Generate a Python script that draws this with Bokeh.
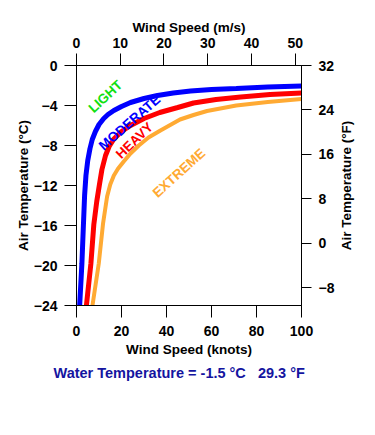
from bokeh.plotting import figure
from bokeh.models import Range1d, LinearAxis, FixedTicker, Title, ColumnDataSource, Label
from bokeh.core.properties import value
from bokeh.embed import file_html
from bokeh.resources import INLINE

# ---- data ----
# boundary LIGHT / MODERATE (blue)
light_kn = [1.4, 2.4, 3.1, 3.6, 4.2, 5.0, 6.0, 7.0, 8.4, 10, 12.1, 14, 16.6, 20, 24, 30, 36, 43, 50.7, 60, 71, 85, 100]
light_c = [-24, -19.8, -15.8, -13.0, -11.0, -9.5, -8.3, -7.4, -6.6, -5.9, -5.3, -4.9, -4.5, -4.1, -3.7, -3.3, -3.0, -2.75, -2.55, -2.4, -2.3, -2.15, -2.05]
# boundary MODERATE / HEAVY (red)
heavy_kn = [4.4, 6.4, 7.7, 9.0, 10.2, 11.3, 12.9, 14.5, 16.6, 20, 24, 30, 37, 45, 52, 62, 73, 86, 100]
heavy_c = [-24, -19.8, -15.9, -13.6, -11.9, -10.4, -9.0, -8.1, -7.35, -6.6, -6.0, -5.3, -4.7, -4.2, -3.75, -3.4, -3.15, -2.9, -2.75]
# boundary HEAVY / EXTREME (orange)
extreme_kn = [7.1, 9.9, 11.8, 13.6, 15.0, 16.6, 18.5, 21, 24, 27.7, 32, 37.3, 46, 52, 58, 71, 85, 100]
extreme_c = [-24, -19.8, -15.8, -13.1, -11.9, -11.0, -10.3, -9.6, -8.8, -8.0, -7.2, -6.5, -5.4, -4.95, -4.55, -4.0, -3.65, -3.35]

category_names = ["LIGHT", "MODERATE", "HEAVY", "EXTREME"]
knots_ticks = [0, 20, 40, 60, 80, 100]
ms_ticks = [0, 10, 20, 30, 40, 50]
degc_ticks = [-24, -20, -16, -12, -8, -4, 0]
degf_ticks = [-8, 0, 8, 16, 24, 32]
footer = "Water Temperature = -1.5 \u00b0C \u00a0\u00a029.3 \u00b0F"
right_title = "Air Temperature (\u00b0F)"

# ---- label placement (annotation positions) ----
lab_x = [12.9, 23.6, 25.8, 45.5]
lab_y = [-3.1, -5.7, -7.5, -10.75]
lab_ang = [43, 41, 44, 42]
lab_col = ["#10E010", "#0000FF", "#FF0000", "#FFAA33"]

FONT = "Liberation Sans"
KN_MAX = 100
MS_PER_KN = 0.5144

p = figure(width=367, height=415,
           x_range=Range1d(0, KN_MAX), y_range=Range1d(-24, 0),
           x_axis_location=None, y_axis_location=None,
           output_backend="svg", toolbar_location=None,
           min_border_left=76, min_border_top=65,
           min_border_right=66, min_border_bottom=110)
p.extra_x_ranges = {"ms": Range1d(0, KN_MAX * MS_PER_KN)}
p.extra_y_ranges = {"F": Range1d(-24 * 9 / 5 + 32, 32)}
p.grid.grid_line_color = None
p.outline_line_color = "black"
p.outline_line_width = 1
p.background_fill_color = "white"
p.border_fill_color = "white"


def style(ax, label, ticks, tick_len, standoff, lab_standoff):
    ax.ticker = FixedTicker(ticks=ticks)
    ax.axis_label = label
    ax.axis_label_text_font = FONT
    ax.axis_label_text_font_style = "bold"
    ax.axis_label_text_font_size = "13.5px"
    ax.axis_label_text_color = "black"
    ax.axis_label_standoff = lab_standoff
    ax.major_label_text_font = FONT
    ax.major_label_text_font_style = "bold"
    ax.major_label_text_font_size = "14px"
    ax.major_label_text_color = "black"
    ax.major_label_standoff = standoff
    ax.major_tick_out = tick_len
    ax.major_tick_in = 0
    ax.minor_tick_out = 0
    ax.minor_tick_in = 0
    ax.axis_line_color = "black"
    ax.major_tick_line_color = "black"


bottom = LinearAxis()
style(bottom, "Wind Speed (knots)", knots_ticks, 12, 8, 3)
p.add_layout(bottom, "below")

top = LinearAxis(x_range_name="ms")
style(top, "Wind Speed (m/s)", ms_ticks, 12, 6, 0)
p.add_layout(top, "above")

left = LinearAxis()
style(left, "Air Temperature (\u00b0C)", degc_ticks, 12, 7, 0)
p.add_layout(left, "left")

right = LinearAxis(y_range_name="F")
style(right, None, degf_ticks, 10, 7, 8)
p.add_layout(right, "right")

# right-hand axis title, reading bottom to top, placed in the right side panel
p.add_layout(Label(x=9, y=120, x_units="screen", y_units="screen", text=right_title,
                   angle=90, angle_units="deg", text_align="center", text_baseline="middle",
                   text_font=FONT, text_font_style="bold", text_font_size="13.5px",
                   text_color="black"), "right")

p.line(light_kn, light_c, line_color="#0000FF", line_width=5)
p.line(heavy_kn, heavy_c, line_color="#FF0000", line_width=5)
p.line(extreme_kn, extreme_c, line_color="#FFAA33", line_width=4)

src = ColumnDataSource(dict(x=lab_x, y=lab_y, text=category_names, angle=lab_ang, color=lab_col))
p.text(x="x", y="y", text="text", angle="angle", angle_units="deg", text_color="color",
       source=src, text_font=value(FONT), text_font_style="bold", text_font_size="13.5px",
       text_align="center", text_baseline="middle")

t = Title(text=footer, text_color="#1414A0", text_font=FONT, text_font_style="bold",
          text_font_size="14.5px", align="left", offset=-23, standoff=6)
p.add_layout(t, "below")

open("out.html", "w").write(file_html(p, INLINE))
